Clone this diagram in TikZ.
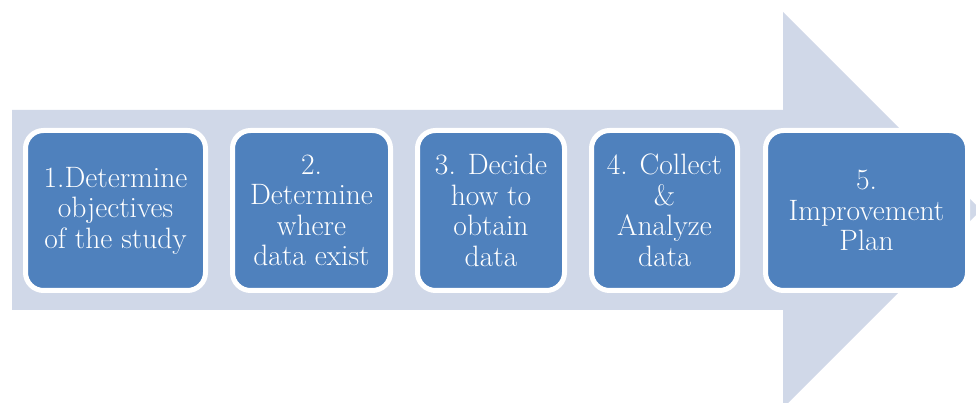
\documentclass[tikz,border=0pt]{standalone}
\usepackage{tikz}
\definecolor{arrowfill}{HTML}{D0D8E8}
\definecolor{stepfill}{HTML}{4F81BD}
\tikzset{
  stepbox/.style={draw=white,line width=5pt,fill=stepfill,rounded corners=18pt,
    minimum height=160pt,inner sep=0pt,align=center,text=white,
    font=\fontsize{29.5}{30.5}\selectfont}
}
\begin{document}
\begin{tikzpicture}[x=1pt,y=1pt]
\useasboundingbox (0,0) rectangle (976,403);
\clip (0,0) rectangle (976,403);
% big arrow behind the steps
\fill[arrowfill] (12,293) -- (783,293) -- (783,391) -- (981,193)
  -- (783,-5) -- (783,93) -- (12,93) -- cycle;
% steps
\node[stepbox,minimum width=180pt] (objectives) at (115.5,192.5) {1.Determine\\objectives\\of the study};
\node[stepbox,minimum width=158pt] (where) at (311.5,192.5) {2.\\Determine\\where\\data exist};
\node[stepbox,minimum width=147pt] (how) at (491,192.5) {3. Decide\\how to\\obtain\\data};
\node[stepbox,minimum width=146pt] (collect) at (664.5,192.5) {4. Collect\\\&\\Analyze\\data};
\node[stepbox,minimum width=202pt] (plan) at (866.5,192.5) {5.\\Improvement\\Plan};
\end{tikzpicture}
\end{document}
